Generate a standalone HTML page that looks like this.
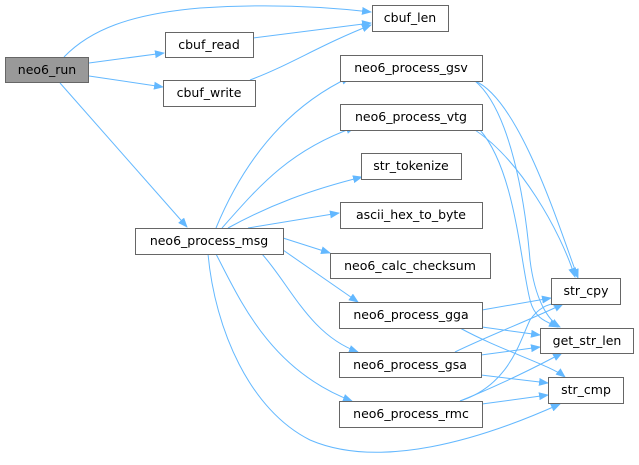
<!DOCTYPE html>
<html><head><style>body{margin:0;background:#fff}svg{display:block}text{font-family:"DejaVu Sans","Liberation Sans",sans-serif;font-size:12.5px;fill:#000}</style></head><body>
<svg width="639" height="465" viewBox="0 0 639 465" xmlns="http://www.w3.org/2000/svg">
<defs><marker id="a" markerWidth="10" markerHeight="8" refX="9" refY="4" orient="auto" markerUnits="userSpaceOnUse"><path d="M0,0L10,4L0,8z" fill="#63b8ff"/></marker></defs>
<g fill="none" stroke="#63b8ff" stroke-width="1" marker-end="url(#a)">
<path d="M64,57C90,30 130,14 200,8C260,4 320,6 371,12"/>
<path d="M89,63L164,53"/>
<path d="M89,76L163,87"/>
<path d="M60,83L187,227"/>
<path d="M253,38L371,23"/>
<path d="M250,80C290,65 320,45 371,25"/>
<path d="M216,228C240,170 280,110 350,77"/>
<path d="M222,228C260,185 290,150 355,127"/>
<path d="M228,228C270,205 310,190 362,177"/>
<path d="M248,228L339,213"/>
<path d="M283,238L330,253"/>
<path d="M283,250L358,302"/>
<path d="M262,254C290,285 310,335 358,352"/>
<path d="M216,254C240,300 270,370 352,401"/>
<path d="M208,254C215,330 250,410 310,440C380,470 480,440 560,404"/>
<path d="M475,81C520,100 560,230 578,278"/>
<path d="M475,81C510,110 525,200 530,260C535,300 548,320 560,327"/>
<path d="M475,130C520,160 560,230 575,277"/>
<path d="M480,130C515,170 520,260 530,300C535,320 548,322 558,327"/>
<path d="M482,310L551,298"/>
<path d="M482,327L540,335"/>
<path d="M460,328C500,350 550,365 565,377"/>
<path d="M455,352C490,335 530,320 563,304"/>
<path d="M481,355L540,347"/>
<path d="M481,375L548,383"/>
<path d="M460,401C500,385 540,365 562,353"/>
<path d="M460,401C510,385 520,340 530,320C540,306 551,302 563,304"/>
<path d="M482,404L548,395"/>
</g>
<g stroke="#666" stroke-width="1">
<rect x="5.5" y="57.5" width="83" height="25" fill="#999"/>
<rect x="165.5" y="32.5" width="88" height="25" fill="#fff"/>
<rect x="163.5" y="80.5" width="92" height="26" fill="#fff"/>
<rect x="372.5" y="5.5" width="76" height="26" fill="#fff"/>
<rect x="135.5" y="228.5" width="148" height="26" fill="#fff"/>
<rect x="340.5" y="55.5" width="142" height="26" fill="#fff"/>
<rect x="340.5" y="104.5" width="142" height="26" fill="#fff"/>
<rect x="361.5" y="153.5" width="100" height="26" fill="#fff"/>
<rect x="340.5" y="202.5" width="142" height="26" fill="#fff"/>
<rect x="330.5" y="253.5" width="160" height="25" fill="#fff"/>
<rect x="339.5" y="302.5" width="143" height="26" fill="#fff"/>
<rect x="339.5" y="352.5" width="142" height="25" fill="#fff"/>
<rect x="339.5" y="401.5" width="143" height="26" fill="#fff"/>
<rect x="551.5" y="278.5" width="69" height="26" fill="#fff"/>
<rect x="540.5" y="328.5" width="93" height="25" fill="#fff"/>
<rect x="548.5" y="377.5" width="75" height="26" fill="#fff"/>
</g>
<g text-anchor="middle">
<text x="47" y="74">neo6_run</text>
<text x="209" y="49">cbuf_read</text>
<text x="209" y="97">cbuf_write</text>
<text x="410" y="22">cbuf_len</text>
<text x="209" y="245">neo6_process_msg</text>
<text x="411" y="72">neo6_process_gsv</text>
<text x="411" y="121">neo6_process_vtg</text>
<text x="411" y="170">str_tokenize</text>
<text x="411" y="219">ascii_hex_to_byte</text>
<text x="410" y="270">neo6_calc_checksum</text>
<text x="411" y="319">neo6_process_gga</text>
<text x="410" y="369">neo6_process_gsa</text>
<text x="411" y="418">neo6_process_rmc</text>
<text x="586" y="295">str_cpy</text>
<text x="587" y="345">get_str_len</text>
<text x="586" y="394">str_cmp</text>
</g>
</svg>
</body></html>
